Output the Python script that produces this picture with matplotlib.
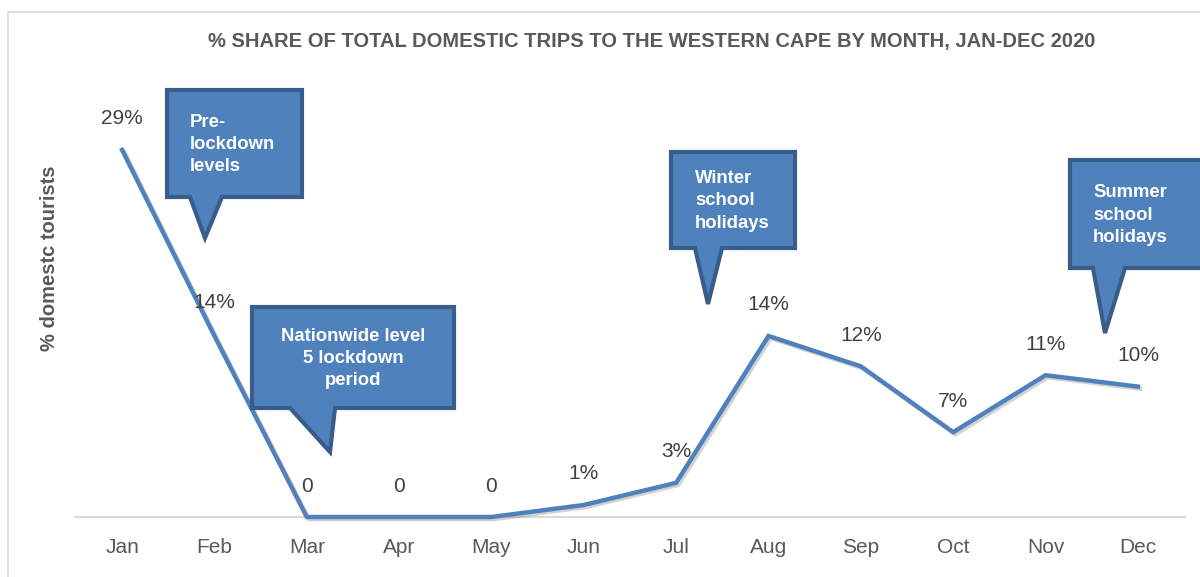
import matplotlib
matplotlib.use("Agg")
import matplotlib.pyplot as plt
from matplotlib.patches import Polygon
import matplotlib.patheffects as pe
from matplotlib import font_manager

months = ["Jan", "Feb", "Mar", "Apr", "May", "Jun", "Jul", "Aug", "Sep", "Oct", "Nov", "Dec"]
share = [29.0, 14.3, 0.0, 0.0, 0.0, 0.95, 2.7, 14.3, 11.9, 6.7, 11.2, 10.3]
labels = ["29%", "14%", "0", "0", "0", "1%", "3%", "14%", "12%", "7%", "11%", "10%"]

title = "% SHARE OF TOTAL DOMESTIC TRIPS TO THE WESTERN CAPE BY MONTH, JAN-DEC 2020"
ylabel = "% domestc tourists"

callout_texts = ["Pre-\nlockdown\nlevels", "Nationwide level\n5 lockdown\nperiod",
                 "Winter\nschool\nholidays", "Summer\nschool\nholidays"]

names = {f.name for f in font_manager.fontManager.ttflist}
narrow = "Liberation Sans Narrow" if "Liberation Sans Narrow" in names else "Liberation Sans"

W, H = 1200, 577
fig = plt.figure(figsize=(W / 100, H / 100), dpi=100)
fig.patch.set_facecolor("white")

def fx(px):
    return px / W

def fy(py):
    return 1 - py / H

ax = fig.add_axes([fx(75), fy(517), fx(1185) - fx(75), fy(100) - fy(517)])
ax.set_xlim(-0.51, 11.51)
ax.set_ylim(0, 417 / 12.66)
for s in ["left", "right", "top"]:
    ax.spines[s].set_visible(False)
ax.spines["bottom"].set_color("#d9d9d9")
ax.spines["bottom"].set_linewidth(1.5)
ax.set_yticks([])
x = list(range(len(months)))
ax.set_xticks(x)
ax.set_xticklabels(months, fontsize=15, color="#595959", family=narrow)
ax.tick_params(axis="x", length=0, pad=15)

ax.plot(x, share, color="#4F81BD", linewidth=3.2, solid_joinstyle="miter",
        path_effects=[pe.SimpleLineShadow(offset=(1.5, -1.5), shadow_color="gray", alpha=0.35),
                      pe.Normal()], clip_on=False, zorder=3)

for i, (v, lab) in enumerate(zip(share, labels)):
    dy = 31 if i != 1 else 33
    ax.annotate(lab, (i, v), xytext=(0, dy * 0.72), textcoords="offset points",
                ha="center", va="center", fontsize=15, color="#404040", family=narrow)

fig.add_artist(plt.Line2D([fx(8), fx(1200)], [fy(12), fy(12)], color="#d9d9d9", lw=1.2))
fig.add_artist(plt.Line2D([fx(8), fx(8)], [fy(12), fy(577)], color="#d9d9d9", lw=1.2))

fig.text(fx(652), fy(42), title, ha="center", va="center", fontsize=14.5,
         fontweight="bold", color="#595959", family=narrow)
fig.text(fx(50), fy(258), ylabel, ha="center", va="center", rotation=90,
         fontsize=14.5, fontweight="bold", color="#595959", family=narrow)

callouts = [
    (167, 302, 90, 197, 190, 222, 205, 238, 190, "left"),
    (252, 454, 307, 408, 290, 335, 330, 452, 353, "center"),
    (671, 795, 152, 248, 695, 722, 708, 304, 695, "left"),
    (1070, 1215, 160, 268, 1093, 1125, 1105, 333, 1093, "left"),
]
for (x0, x1, y0, y1, bl, br, tx, ty, txx, al), txt in zip(callouts, callout_texts):
    pts = [(x0, y0), (x1, y0), (x1, y1), (br, y1), (tx, ty), (bl, y1), (x0, y1)]
    poly = Polygon([(fx(a), fy(b)) for a, b in pts], closed=True, transform=fig.transFigure,
                   facecolor="#4F81BD", edgecolor="#385D8A", linewidth=3, joinstyle="miter",
                   zorder=5)
    fig.add_artist(poly)
    fig.text(fx(txx), fy((y0 + y1) / 2 + 1), txt, ha=al, va="center", multialignment=al,
             fontsize=13.3, fontweight="bold", color="white", family="Liberation Sans",
             linespacing=1.42, zorder=6)

fig.savefig("out.png", dpi=100)
